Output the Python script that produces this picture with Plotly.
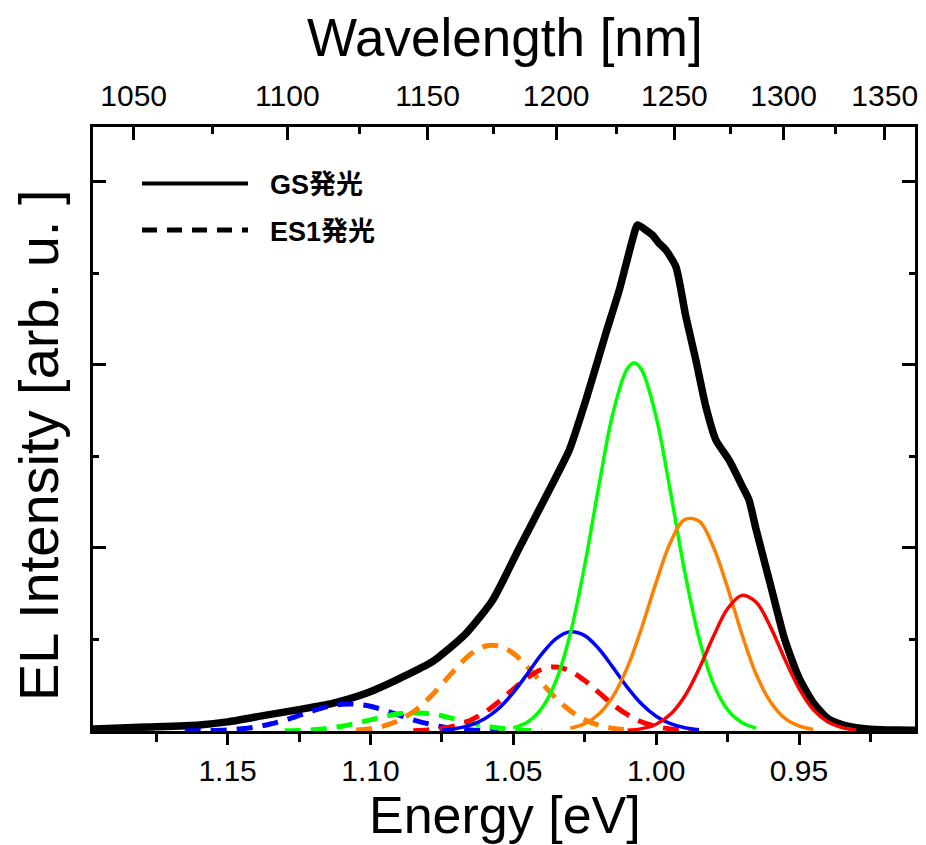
import plotly.graph_objects as go

# ---------------- data ----------------
# total EL spectrum (black)
total_E = [1.1972, 1.185, 1.1773, 1.1598, 1.150, 1.1365, 1.125, 1.1133, 1.1015, 1.0897,
           1.0783, 1.0665, 1.0572, 1.0479, 1.0374, 1.0304, 1.0246, 1.0176, 1.0129, 1.0083,
           1.0065, 1.0036, 1.0013, 0.9990, 0.9966, 0.9931, 0.9896, 0.9861, 0.9826, 0.9791,
           0.9745, 0.9698, 0.9675, 0.965, 0.960, 0.955, 0.950, 0.945, 0.940, 0.935,
           0.930, 0.925, 0.915, 0.9094]
total_I = [0.011, 0.018, 0.022, 0.033, 0.050, 0.087, 0.117, 0.151, 0.206, 0.288,
           0.379, 0.534, 0.716, 1.000, 1.317, 1.535, 1.808, 2.173, 2.409, 2.683,
           2.765, 2.737, 2.710, 2.665, 2.628, 2.537, 2.264, 2.027, 1.772, 1.590,
           1.481, 1.335, 1.262, 1.100, 0.800, 0.500, 0.290, 0.155, 0.070, 0.035,
           0.018, 0.010, 0.005, 0.004]

# GS components (solid)
gs_green_E = [1.050, 1.045, 1.040, 1.035, 1.030, 1.025, 1.020, 1.015, 1.010, 1.0075,
              1.005, 1.000, 0.995, 0.990, 0.985, 0.980, 0.975, 0.970, 0.965]
gs_green_I = [0.017, 0.049, 0.125, 0.276, 0.534, 0.906, 1.343, 1.744, 1.982, 2.010,
              1.971, 1.716, 1.308, 0.872, 0.509, 0.260, 0.116, 0.046, 0.016]

gs_blue_E = [1.075, 1.070, 1.065, 1.060, 1.055, 1.050, 1.045, 1.040, 1.035, 1.030,
             1.025, 1.020, 1.015, 1.010, 1.005, 1.000, 0.995, 0.990, 0.985]
gs_blue_I = [0.005, 0.014, 0.032, 0.067, 0.125, 0.210, 0.314, 0.421, 0.505, 0.542,
             0.521, 0.448, 0.345, 0.237, 0.146, 0.081, 0.040, 0.018, 0.007]

gs_orange_E = [1.030, 1.025, 1.020, 1.015, 1.010, 1.005, 1.000, 0.995, 0.990, 0.985,
               0.980, 0.975, 0.970, 0.965, 0.960, 0.955, 0.950, 0.945]
gs_orange_I = [0.015, 0.040, 0.093, 0.192, 0.350, 0.567, 0.812, 1.030, 1.155, 1.147,
               1.007, 0.783, 0.530, 0.310, 0.160, 0.070, 0.028, 0.009]

gs_red_E = [1.010, 1.005, 1.000, 0.995, 0.990, 0.985, 0.980, 0.975, 0.970, 0.965,
            0.960, 0.955, 0.950, 0.945, 0.940, 0.935, 0.930]
gs_red_I = [0.004, 0.013, 0.037, 0.091, 0.190, 0.339, 0.515, 0.668, 0.741, 0.703,
            0.569, 0.394, 0.233, 0.117, 0.051, 0.019, 0.006]

# ES1 components (dashed)
es_orange_E = [1.105, 1.100, 1.095, 1.090, 1.085, 1.080, 1.075, 1.070, 1.065, 1.060,
               1.055, 1.050, 1.045, 1.040, 1.035, 1.030, 1.025, 1.020, 1.015, 1.010]
es_orange_I = [0.006, 0.013, 0.029, 0.058, 0.105, 0.172, 0.255, 0.343, 0.419, 0.463,
               0.465, 0.424, 0.350, 0.262, 0.178, 0.110, 0.061, 0.031, 0.014, 0.006]

es_red_E = [1.085, 1.080, 1.075, 1.070, 1.065, 1.060, 1.055, 1.050, 1.045, 1.040,
            1.035, 1.030, 1.025, 1.020, 1.015, 1.010, 1.005, 1.000, 0.995, 0.990, 0.985]
es_red_I = [0.002, 0.006, 0.014, 0.030, 0.059, 0.102, 0.161, 0.229, 0.292, 0.337,
            0.350, 0.327, 0.276, 0.210, 0.143, 0.089, 0.049, 0.025, 0.011, 0.005, 0.002]

es_green_E = [1.130, 1.125, 1.120, 1.115, 1.110, 1.105, 1.100, 1.095, 1.090, 1.085,
              1.080, 1.075, 1.070, 1.065, 1.060, 1.055, 1.050, 1.045, 1.040]
es_green_I = [0.001, 0.003, 0.007, 0.015, 0.026, 0.042, 0.061, 0.080, 0.094, 0.100,
              0.096, 0.083, 0.064, 0.045, 0.028, 0.016, 0.008, 0.004, 0.0015]

es_blue_E = [1.165, 1.160, 1.155, 1.150, 1.145, 1.140, 1.135, 1.130, 1.125, 1.120,
             1.115, 1.110, 1.105, 1.100, 1.095, 1.090, 1.085, 1.080, 1.075, 1.070,
             1.065, 1.060, 1.055]
es_blue_I = [0.0004, 0.001, 0.003, 0.006, 0.012, 0.022, 0.038, 0.059, 0.085, 0.111,
             0.133, 0.146, 0.147, 0.135, 0.113, 0.087, 0.061, 0.040, 0.023, 0.013,
             0.006, 0.003, 0.001]

# axis ticks
energy_ticks = [1.15, 1.10, 1.05, 1.00, 0.95]
energy_labels = ["1.15", "1.10", "1.05", "1.00", "0.95"]
energy_minor = [1.175, 1.125, 1.075, 1.025, 0.975, 0.925]
wl_ticks = [1050, 1100, 1150, 1200, 1250, 1300, 1350]
wl_minor = [1075, 1125, 1175, 1225, 1275, 1325]
HC = 1242.0  # eV*nm

legend_labels = ["GS発光", "ES1発光"]

# ---------------- figure ----------------
W, H = 926, 845
L, R, T, B = 93, 915, 127, 731
X_RANGE = [1.1971, 0.9094]
Y_RANGE = [0.0, 3.30]

FONT = "Liberation Sans, Arial, Noto Sans CJK JP, sans-serif"

GREEN, BLUE, ORANGE, RED = "#00ff00", "#0000ff", "#ff8000", "#ff0000"
DASH = "16px,10px"

fig = go.Figure()

fig.add_trace(go.Scatter(x=total_E, y=total_I, mode="lines",
                         line=dict(color="black", width=7.5, shape="spline", smoothing=0.6),
                         showlegend=False, hoverinfo="skip"))

for ex, ey, col in [(es_blue_E, es_blue_I, BLUE), (es_green_E, es_green_I, GREEN),
                    (es_orange_E, es_orange_I, ORANGE), (es_red_E, es_red_I, RED)]:
    fig.add_trace(go.Scatter(x=ex, y=ey, mode="lines",
                             line=dict(color=col, width=5, dash=DASH, shape="spline"),
                             showlegend=False, hoverinfo="skip"))

for gx, gy, col in [(gs_blue_E, gs_blue_I, BLUE), (gs_green_E, gs_green_I, GREEN),
                    (gs_orange_E, gs_orange_I, ORANGE), (gs_red_E, gs_red_I, RED)]:
    fig.add_trace(go.Scatter(x=gx, y=gy, mode="lines",
                             line=dict(color=col, width=3.5, shape="spline"),
                             showlegend=False, hoverinfo="skip"))

# dummy trace for the top axis
fig.add_trace(go.Scatter(x=[X_RANGE[0]], y=[None], xaxis="x2", mode="lines",
                         showlegend=False, hoverinfo="skip"))

tickfont = dict(family=FONT, size=30, color="black")

fig.update_layout(
    width=W, height=H,
    margin=dict(l=L, r=W - R, t=T, b=H - B, pad=0, autoexpand=False),
    paper_bgcolor="white", plot_bgcolor="white",
    showlegend=False,
    xaxis=dict(range=X_RANGE, tickmode="array", tickvals=energy_ticks, ticktext=energy_labels,
               automargin=False,
               ticks="outside", ticklen=11, tickwidth=3, tickcolor="black",
               showline=True, linewidth=3, linecolor="black", mirror=False,
               showgrid=False, zeroline=False, tickfont=tickfont, ticklabelstandoff=0,
               minor=dict(tickmode="array", tickvals=energy_minor, ticks="outside",
                          ticklen=8, tickwidth=3, tickcolor="black", showgrid=False)),
    xaxis2=dict(overlaying="x", side="top", range=X_RANGE, tickmode="array",
                automargin=False,
                tickvals=[HC / w for w in wl_ticks], ticktext=[str(w) for w in wl_ticks],
                ticks="inside", ticklen=13, tickwidth=3, tickcolor="black",
                showline=True, linewidth=3, linecolor="black",
                showgrid=False, zeroline=False, tickfont=tickfont, ticklabelstandoff=6,
                minor=dict(tickmode="array", tickvals=[HC / w for w in wl_minor], ticks="inside",
                           ticklen=7, tickwidth=3, tickcolor="black", showgrid=False)),
    yaxis=dict(range=Y_RANGE, tick0=0, dtick=1, ticks="inside", ticklen=13, tickwidth=3,
               automargin=False,
               tickcolor="black", showticklabels=False, showline=True, linewidth=3,
               linecolor="black", mirror="ticks", showgrid=False, zeroline=False,
               minor=dict(dtick=0.5, tick0=0, ticks="inside", ticklen=6, tickwidth=3,
                          tickcolor="black", showgrid=False)),
)

def px(xp):
    return (xp - L) / (R - L)

def py(yp):
    return (B - yp) / (B - T)

# axis titles
fig.add_annotation(text="Energy [eV]", x=px(505), y=py(815), xref="paper", yref="paper",
                   showarrow=False, xanchor="center", yanchor="middle",
                   font=dict(family=FONT, size=52, color="black"))
fig.add_annotation(text="Wavelength [nm]", x=px(505), y=py(38), xref="paper", yref="paper",
                   showarrow=False, xanchor="center", yanchor="middle",
                   font=dict(family=FONT, size=53, color="black"))
fig.add_annotation(text="EL Intensity [arb. u. ]", x=px(38), y=py(445), xref="paper", yref="paper",
                   showarrow=False, xanchor="center", yanchor="middle", textangle=-90,
                   font=dict(family=FONT, size=56, color="black"))

# legend (drawn manually for long line samples)
fig.add_shape(type="line", xref="paper", yref="paper", x0=px(142), x1=px(248),
              y0=py(183.5), y1=py(183.5), line=dict(color="black", width=4))
fig.add_shape(type="line", xref="paper", yref="paper", x0=px(142), x1=px(248),
              y0=py(230), y1=py(230), line=dict(color="black", width=5, dash="15px,10px"))
fig.add_annotation(text="<b>" + legend_labels[0] + "</b>", x=px(268), y=py(185),
                   xref="paper", yref="paper", showarrow=False, xanchor="left", yanchor="middle",
                   font=dict(family=FONT, size=27, color="black"))
fig.add_annotation(text="<b>" + legend_labels[1] + "</b>", x=px(268), y=py(232),
                   xref="paper", yref="paper", showarrow=False, xanchor="left", yanchor="middle",
                   font=dict(family=FONT, size=27, color="black"))

# remove the default page margin so the figure sits at the window's top-left corner
fig.write_html("out.html", config={"displayModeBar": False},
               post_script="document.body.style.margin='0';")
